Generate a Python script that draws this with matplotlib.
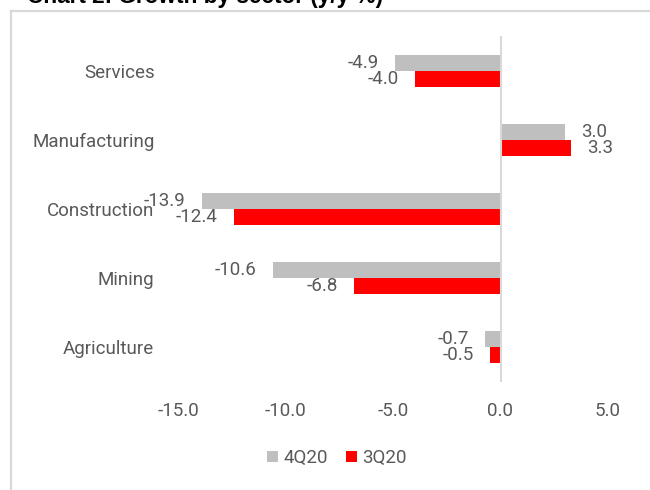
import matplotlib.pyplot as plt
import numpy as np
from matplotlib.lines import Line2D

sectors = ['Agriculture', 'Mining', 'Construction', 'Manufacturing', 'Services']
q4_20 = [-0.7, -10.6, -13.9, 3.0, -4.9]
q3_20 = [-0.5, -6.8, -12.4, 3.3, -4.0]
xticks = [-15.0, -10.0, -5.0, 0.0, 5.0]

plt.rcParams['font.family'] = ['Roboto', 'DejaVu Sans']
txt = '#595959'
fs = 13.5

fig = plt.figure(figsize=(6.5, 4.9), dpi=100)
ax = fig.add_axes([178 / 650, 1 - 381.5 / 490, 430 / 650, 345 / 490])

y = np.arange(len(sectors))
h = 0.232
b1 = ax.barh(y + h / 2, q4_20, height=h, color='#bfbfbf', label='4Q20')
b2 = ax.barh(y - h / 2, q3_20, height=h, color='#ff0000', label='3Q20')

for bars, vals in ((b1, q4_20), (b2, q3_20)):
    for bar, v in zip(bars, vals):
        yc = bar.get_y() + bar.get_height() / 2
        off = 11.5 if v >= 0 else -11.5
        ax.annotate(f'{v:.1f}', (v, yc), xytext=(off, 0), textcoords='offset points',
                    ha='left' if v >= 0 else 'right', va='center',
                    fontsize=fs, color=txt)

ax.axvline(0, color='#d9d9d9', lw=1.5, zorder=3)
ax.set_xlim(-15, 5)
ax.set_ylim(-0.5, len(sectors) - 0.5)
ax.set_xticks(xticks)
ax.set_xticklabels([f'{t:.1f}' for t in xticks])
ax.set_yticks(y)
ax.set_yticklabels(sectors)
ax.tick_params(length=0, labelsize=fs, labelcolor=txt)
ax.tick_params(axis='x', pad=15)
ax.tick_params(axis='y', pad=17)
for s in ax.spines.values():
    s.set_visible(False)

fig.legend(handles=[b1, b2], loc='center', bbox_to_anchor=(337 / 650, 1 - 458 / 490),
           ncol=2, frameon=False, fontsize=fs, labelcolor=txt,
           handlelength=0.55, handleheight=0.55, handletextpad=0.3, columnspacing=1.0)

# chart border (cropped) and title
fig.add_artist(Line2D([11 / 650, 11 / 650], [0, 1 - 11 / 490], color='#d9d9d9', lw=1.6))
fig.add_artist(Line2D([11 / 650, 1], [1 - 11 / 490, 1 - 11 / 490], color='#d9d9d9', lw=1.6))
fig.text(27 / 650, 1 - 3 / 490, 'Chart 2: Growth by sector (y/y %)', fontsize=16.3,
         fontweight='bold', family='Liberation Sans', color='black', va='baseline')

fig.savefig('out.png', dpi=100)
